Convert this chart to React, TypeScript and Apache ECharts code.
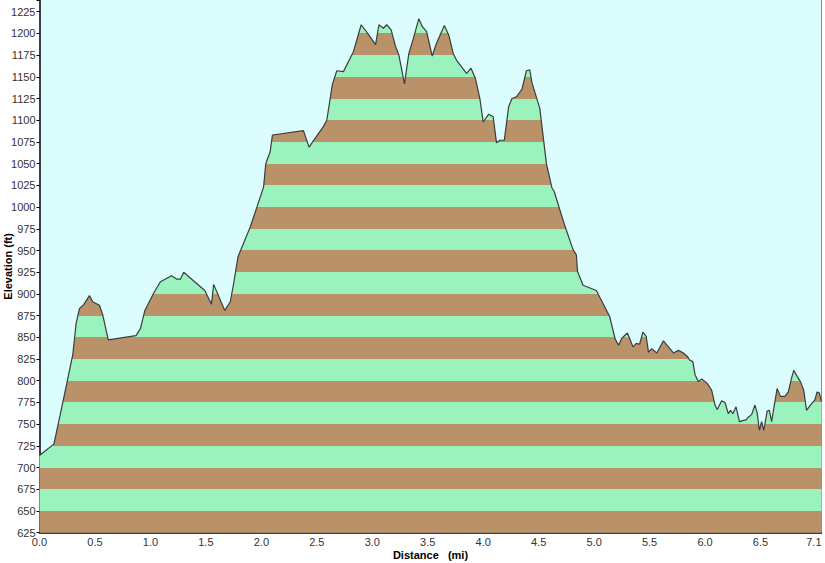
import React, { useEffect, useRef } from "react";
import * as echarts from "echarts";

const distances = [
  0.0, 0.03, 0.13, 0.215, 0.3, 0.33, 0.36, 0.4, 0.45, 0.48, 0.54, 0.57, 0.62, 0.87, 0.91, 0.95,
  1.03, 1.09, 1.19, 1.24, 1.27, 1.3, 1.49, 1.55, 1.57, 1.67, 1.72, 1.75, 1.79, 1.9, 2.02, 2.04,
  2.08, 2.1, 2.38, 2.43, 2.56, 2.59, 2.64, 2.68, 2.74, 2.83, 2.9, 2.97, 3.03, 3.06, 3.1, 3.13,
  3.17, 3.21, 3.24, 3.29, 3.33, 3.37, 3.42, 3.45, 3.49, 3.54, 3.58, 3.65, 3.69, 3.73, 3.76, 3.85,
  3.89, 3.93, 3.97, 4.0, 4.05, 4.09, 4.12, 4.15, 4.19, 4.23, 4.26, 4.3, 4.35, 4.39, 4.42, 4.44,
  4.51, 4.57, 4.62, 4.64, 4.74, 4.81, 4.84, 4.85, 4.9, 5.02, 5.08, 5.14, 5.19, 5.22, 5.25, 5.3,
  5.32, 5.35, 5.38, 5.41, 5.44, 5.47, 5.49, 5.52, 5.565, 5.625, 5.67, 5.715, 5.76, 5.805, 5.84, 5.86,
  5.89, 5.91, 5.94, 5.97, 6.02, 6.06, 6.09, 6.11, 6.15, 6.18, 6.21, 6.23, 6.25, 6.28, 6.31, 6.34,
  6.37, 6.39, 6.42, 6.45, 6.47, 6.49, 6.51, 6.53, 6.56, 6.58, 6.6, 6.63, 6.65, 6.68, 6.72, 6.75,
  6.78, 6.8, 6.83, 6.86, 6.89, 6.915, 6.95, 6.99, 7.01, 7.03, 7.05,
];

const elevations = [
  714, 717, 727, 778, 830, 866, 883, 888, 898, 891, 887, 876, 847, 852, 860, 881,
  901, 914, 921, 917, 917, 925, 904, 888, 911, 881, 891, 912, 943, 977, 1023, 1050,
  1064, 1083, 1088, 1069, 1093, 1100, 1141, 1157, 1156, 1179, 1210, 1198, 1187, 1210, 1206, 1210,
  1204, 1185, 1175, 1142, 1177, 1194, 1217, 1208, 1202, 1174, 1189, 1209, 1198, 1177, 1169, 1154,
  1160, 1148, 1125, 1098, 1107, 1104, 1074, 1077, 1077, 1116, 1125, 1127, 1136, 1157, 1158, 1143,
  1114, 1050, 1022, 1018, 977, 951, 945, 926, 910, 904, 889, 874, 848, 841, 849, 855,
  849, 839, 843, 842, 856, 851, 833, 837, 832, 846, 839, 832, 835, 832, 828, 824,
  822, 807, 799, 802, 797, 789, 772, 767, 777, 775, 762, 766, 762, 770, 753, 754,
  755, 758, 761, 772, 763, 743, 753, 743, 765, 766, 753, 776, 791, 782, 782, 787,
  803, 812, 805, 799, 789, 766, 772, 778, 787, 786, 776,
];

const bandStart = 625;
const bandStep = 25;
const bandCount = 26;
const bandColors = ["#b99269", "#9af2bf"];

export default function App() {
  const ref = useRef<HTMLDivElement>(null);

  useEffect(() => {
    if (!ref.current) return;
    const chart = echarts.init(ref.current, undefined, { renderer: "svg" });
    const data = distances.map((d, i) => [d, elevations[i]]);
    const pieces = [] as any[];
    for (let k = 0; k < bandCount; k++) {
      pieces.push({
        gte: bandStart + k * bandStep,
        lt: bandStart + (k + 1) * bandStep,
        color: bandColors[k % 2],
      });
    }
    const font = "'Liberation Sans', Arial, sans-serif";
    chart.setOption({
      animation: false,
      backgroundColor: "#ffffff",
      grid: {
        left: 39.5,
        right: 3.5,
        top: 0,
        bottom: 30.3,
        containLabel: false,
        outerBoundsMode: "none",
        show: true,
        backgroundColor: "#dcfdfd",
        borderWidth: 0,
      },
      visualMap: {
        type: "piecewise",
        show: false,
        dimension: 1,
        seriesIndex: 0,
        pieces,
      },
      xAxis: {
        type: "value",
        min: 0,
        max: 7.05,
        interval: 0.5,
        name: "Distance   (mi)",
        nameLocation: "middle",
        nameGap: 17,
        nameMoveOverlap: false,
        nameTextStyle: { fontFamily: font, fontSize: 11, fontWeight: "bold", color: "#000" },
        axisLine: { show: true, onZero: false, lineStyle: { color: "#000", width: 1.5 } },
        axisTick: { show: false },
        splitLine: { show: false },
        axisLabel: {
          fontFamily: font,
          fontSize: 11,
          color: "#333",
          margin: 4,
          alignMaxLabel: "right",
          formatter: (v: number) =>
            v > 7.02 ? "7.1" : Math.abs(v - 7) < 1e-6 ? "" : v.toFixed(1),
        },
      },
      yAxis: [
        {
          type: "value",
          min: 625,
          max: 1238.5,
          interval: 25,
          name: "Elevation (ft)",
          nameLocation: "middle",
          nameGap: 26,
          nameMoveOverlap: false,
          nameRotate: 90,
          nameTextStyle: { fontFamily: font, fontSize: 11, fontWeight: "bold", color: "#000" },
          axisLine: { show: true, lineStyle: { color: "#000", width: 1.5 } },
          axisTick: { show: true, length: 3, lineStyle: { color: "#000", width: 1 } },
          splitLine: { show: false },
          axisLabel: {
            fontFamily: font,
            fontSize: 11,
            color: "#333",
            margin: 4,
            formatter: (v: number) => (v % 25 === 0 ? String(v) : ""),
          },
        },
        {
          type: "value",
          position: "right",
          min: 625,
          max: 1238.5,
          axisLine: { show: true, lineStyle: { color: "#8a8a8a", width: 1 } },
          axisTick: { show: false },
          axisLabel: { show: false },
          splitLine: { show: false },
        },
      ],
      series: [
        {
          type: "line",
          data,
          showSymbol: false,
          symbol: "none",
          lineStyle: { color: "#3c3c3c", width: 1.2 },
          areaStyle: { opacity: 1, origin: "start" },
        },
      ],
    });
    return () => chart.dispose();
  }, []);

  return (
    <div
      ref={ref}
      style={{ position: "absolute", left: 0, top: 0, width: 825, height: 563 }}
    />
  );
}
